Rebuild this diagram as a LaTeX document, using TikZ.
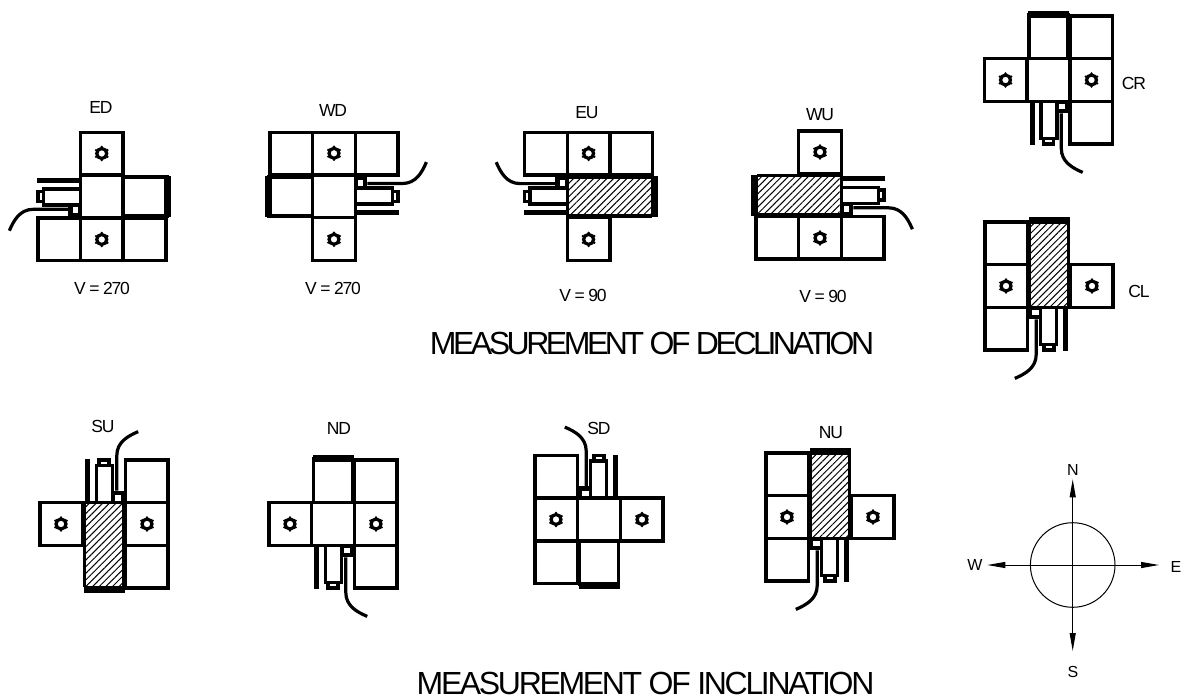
\documentclass[tikz,border=0pt]{standalone}
\usepackage{fontspec}
\setmainfont{Liberation Sans}
\usetikzlibrary{arrows.meta,patterns.meta,calc}
\newfontfamily\lblfont[LetterSpace=-7]{Liberation Sans}
\newfontfamily\ttlfont[LetterSpace=-10.8]{Liberation Sans}
\newfontfamily\ttlfontb[LetterSpace=-7.3]{Liberation Sans}
\tikzset{
  cellbox/.style={draw=black,line width=3.5pt,fill=white,line join=miter},
  heavy/.style={draw=black,line width=3.5pt},
  endbar/.style={fill=black,draw=none},
  wire/.style={draw=black,line width=3.2pt,line cap=butt},
  lbl/.style={inner sep=0pt,font=\fontsize{17.5}{18}\lblfont},
  ttl/.style={inner sep=0pt,font=\fontsize{32}{34}\ttlfont},
  ttlb/.style={inner sep=0pt,font=\fontsize{32}{34}\ttlfontb},
  cmp/.style={inner sep=0pt,font=\fontsize{16}{18}\selectfont},
  hatchfill/.style={pattern={Lines[angle=45,distance=4.7pt,line width=1pt]},pattern color=black},
  tip/.style={-{Triangle[length=18pt,width=6pt]},line width=1pt}
}
\newcommand{\boltmark}[2]{%
  \draw[line width=3.2pt] (#1,#2) circle[radius=5pt];
  \foreach \a in {30,90,150,210,270,330}
    \fill ($(#1,#2)+(\a:6.6pt)$) circle[radius=1.3pt];
}
% centre x, centre y, x-vector (pt), y-vector (pt), hatch flag
\newcommand{\instr}[7]{%
\begin{scope}[shift={(#1,#2)},x={(#3pt,#4pt)},y={(#5pt,#6pt)}]
  % three-cell row
  \draw[cellbox] (-64,21.3) rectangle (64,64);
  \draw[cellbox] (-21.3,21.3) -- (-21.3,64) (21.3,21.3) -- (21.3,64);
  % bolt cell
  \draw[cellbox] (-21.3,-64) rectangle (21.3,-21.3);
  % box with thick end
  \ifnum#7=1
    \fill[white] (-21.3,-21.3) rectangle (64,19.5);
    \fill[hatchfill] (-19.5,-19.5) rectangle (63,19.5);
    \draw[heavy] (-21.3,-19.5) -- (63,-19.5) (-21.3,19.5) -- (63,19.5);
    \draw[heavy] (-21.3,-21.3) -- (-21.3,21.3);
    \draw[heavy] (-21.3,-21.3) -- (21.3,-21.3);
    \draw[heavy] (-21.3,21.3) -- (21.3,21.3);
  \else
    \draw[cellbox] (21.3,-19.5) rectangle (65,19.5);
    \draw[heavy] (-21.3,-21.3) rectangle (21.3,21.3);
  \fi
  \fill[endbar] (62.3,-20.5) rectangle (69.3,20.5);
  % telescope
  \fill (-65,-18.6) rectangle (-21.3,-13.6);
  \draw[heavy,fill=white] (-58.5,-7.5) rectangle (-21.3,8.5);
  \draw[heavy,fill=white] (-64,-5) rectangle (-58.5,5);
  \fill (-33.4,8.5) rectangle (-21.3,21.3);
  \fill[white] (-29,10.5) rectangle (-23.5,16.8);
  \draw[wire] (-33.4,12.8) -- (-68.4,12.8) .. controls (-82,12.8) and (-88,24) .. (-92.4,34.2);
  \boltmark{0}{-43}
  \boltmark{0}{43}
\end{scope}}
\begin{document}
\begin{tikzpicture}[x=1pt,y=-1pt]
\useasboundingbox (0,0) rectangle (1188,699);
\fill[white] (0,0) rectangle (1188,699);
\instr{101.75}{196.5}{1}{0}{0}{-1}{0}
\instr{334}{196.3}{-1}{0}{0}{1}{0}
\instr{588.6}{196.4}{1}{0}{0}{1}{1}
\instr{820}{195}{-1}{0}{0}{-1}{1}
\instr{1048.5}{80}{0}{1}{1}{0}{0}
\instr{1049}{286}{0}{1}{-1}{0}{1}
\instr{104}{524}{0}{-1}{1}{0}{1}
\instr{333}{524}{0}{1}{1}{0}{0}
\instr{599}{519.5}{0}{-1}{-1}{0}{0}
\instr{830}{517}{0}{1}{-1}{0}{1}
\node[lbl] (ed) at (101,107) {ED};
\node[lbl] (wd) at (333,110) {WD};
\node[lbl] (eu) at (587,113) {EU};
\node[lbl] (wu) at (820,115) {WU};
\node[lbl] (cr) at (1134,83) {CR};
\node[lbl] (cl) at (1139,291) {CL};
\node[lbl] (su) at (103,426) {SU};
\node[lbl] (nd) at (339,428) {ND};
\node[lbl] (sd) at (599,428) {SD};
\node[lbl] (nu) at (831,433) {NU};
\node[lbl] (v1) at (102,288) {V = 270};
\node[lbl] (v2) at (333,288) {V = 270};
\node[lbl] (v3) at (583,295) {V = 90};
\node[lbl] (v4) at (823,296) {V = 90};
\node[ttl] (t1) at (652,343) {MEASUREMENT OF DECLINATION};
\node[ttlb] (t2) at (645.5,683) {MEASUREMENT OF INCLINATION};
% compass
\coordinate (cc) at (1072.7,565);
\coordinate (an) at (1072.7,479.3);
\coordinate (as) at (1072.7,651);
\coordinate (aw) at (987.3,565);
\coordinate (ae) at (1159,565);
\draw[line width=1pt] (cc) circle[radius=42.3pt];
\draw[tip] (cc) -- (an);
\draw[tip] (cc) -- (as);
\draw[tip] (cc) -- (aw);
\draw[tip] (cc) -- (ae);
\node[cmp] (n) at (1073,470) {N};
\node[cmp] (s) at (1073,672) {S};
\node[cmp] (w) at (975,565) {W};
\node[cmp] (e) at (1176,567) {E};
\end{tikzpicture}
\end{document}
